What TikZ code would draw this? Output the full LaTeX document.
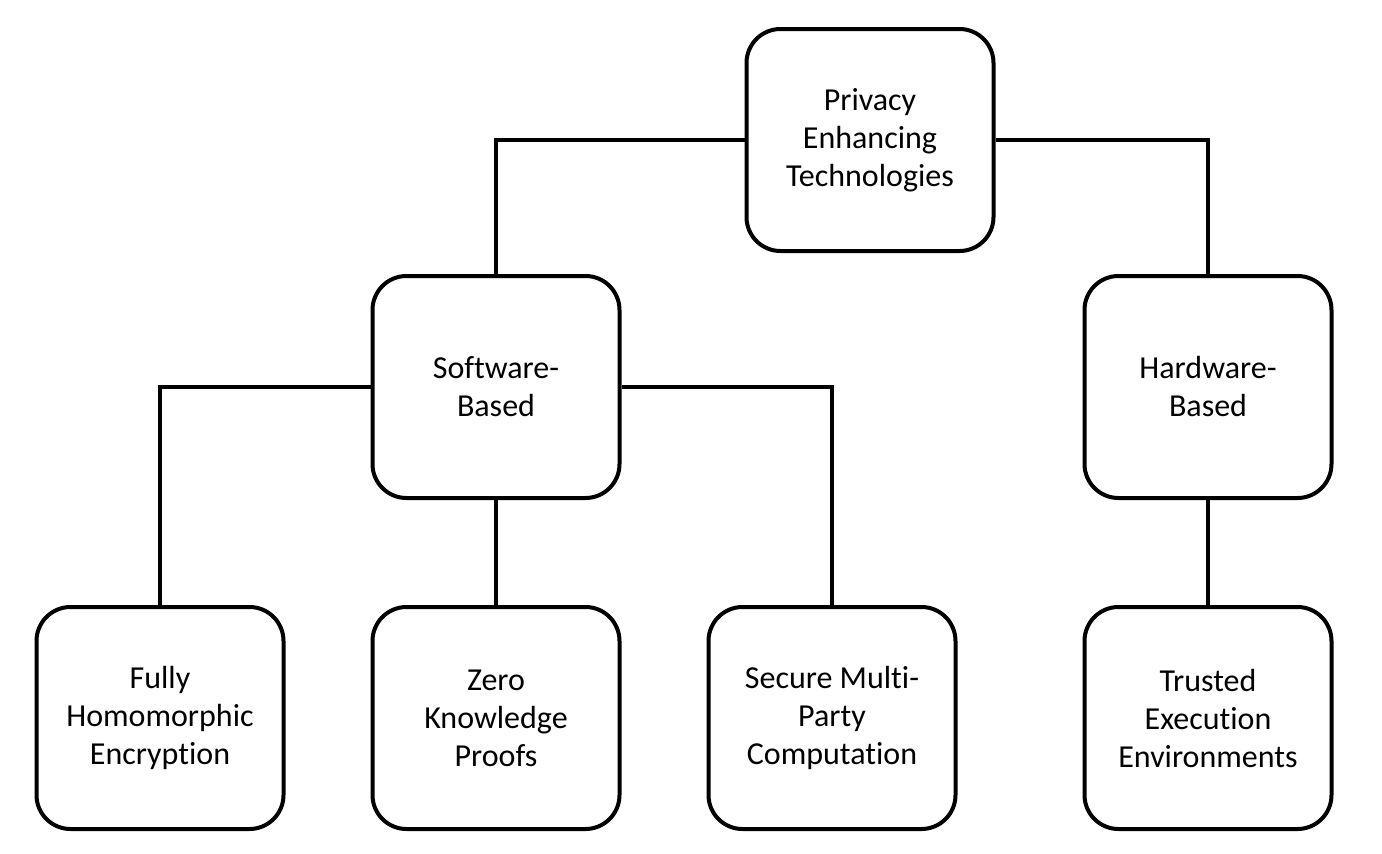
\documentclass[tikz,border=0pt]{standalone}
\usepackage{fontspec}
\setmainfont{Carlito}[RawFeature=-liga]
\begin{document}
\begin{tikzpicture}[x=1pt,y=-1pt,
  box/.style={draw=black,line width=4pt,rounded corners=34pt,minimum width=247pt,minimum height=222pt,align=center,font=\fontsize{32}{38}\selectfont,inner sep=0pt},
  conn/.style={draw=black,line width=4pt}]
\useasboundingbox[fill=white] (0,0) rectangle (1382,854);
\node[box] (root) at (870,140) {Privacy\\Enhancing\\Technologies};
\node[box] (sw) at (496,387) {Software-\\Based};
\node[box] (hw) at (1208,387) {Hardware-\\Based};
\node[box] (fhe) at (160,718) {Fully\\Homomorphic\\Encryption};
\node[box] (zkp) at (496,718) {Zero\\Knowledge\\Proofs};
\node[box] (smpc) at (832,718) {Secure Multi-\\Party\\Computation};
\node[box] (tee) at (1208,718) {Trusted\\Execution\\Environments};
\draw[conn] (root.west) -| (sw.north);
\draw[conn] (root.east) -| (hw.north);
\draw[conn] (sw.west) -| (fhe.north);
\draw[conn] (sw.east) -| (smpc.north);
\draw[conn] (sw.south) -- (zkp.north);
\draw[conn] (hw.south) -- (tee.north);
\end{tikzpicture}
\end{document}
